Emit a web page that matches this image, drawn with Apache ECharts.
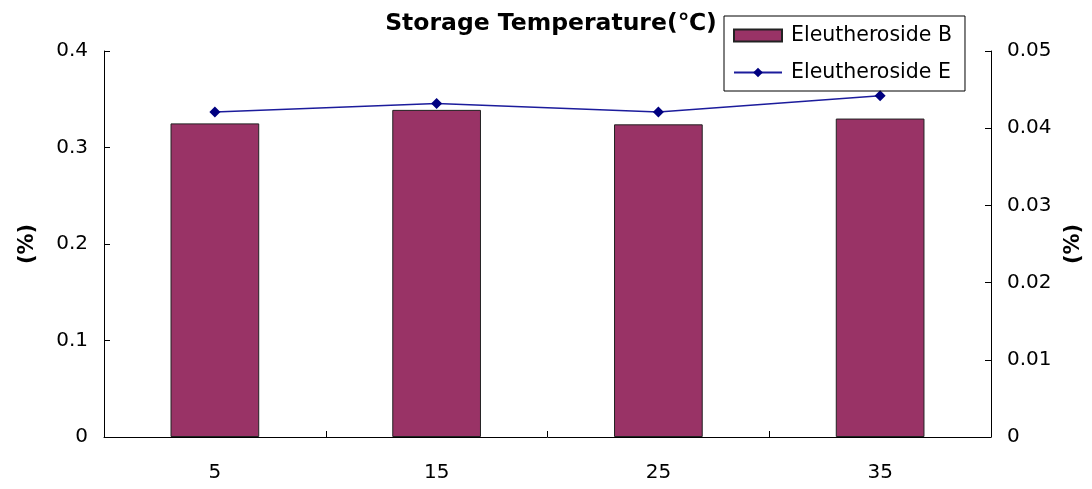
<!DOCTYPE html>
<html>
<head>
<meta charset="utf-8">
<script src="https://cdn.jsdelivr.net/npm/echarts@6/dist/echarts.min.js"></script>
<style>
html,body{margin:0;padding:0;background:#fff;}
#chart{width:1092px;height:489px;}
</style>
</head>
<body>
<div id="chart"></div>
<script>
const categories = ['5', '15', '25', '35'];
const eleutherosideB = [0.325, 0.339, 0.324, 0.330];
const eleutherosideE = [0.0421, 0.0432, 0.0421, 0.0442];
const leftTicks = {min: 0, max: 0.4, interval: 0.1};
const rightTicks = {min: 0, max: 0.05, interval: 0.01};

const FONT = 'DejaVu Sans';
const chart = echarts.init(document.getElementById('chart'), null, {renderer: 'canvas'});
const fmt = v => String(Math.round(v * 1000) / 1000);
chart.setOption({
  animation: false,
  backgroundColor: '#fff',
  title: {
    text: 'Storage Temperature(℃)',
    left: 546,
    textAlign: 'center',
    top: 7,
    textStyle: {fontFamily: FONT, fontWeight: 'bold', fontSize: 23.5, color: '#000'}
  },
  legend: {
    orient: 'vertical',
    left: 724,
    top: 16,
    padding: [9, 13, 8, 9],
    itemGap: 16,
    itemWidth: 48,
    itemHeight: 12,
    borderColor: '#000',
    borderWidth: 1,
    textStyle: {fontFamily: FONT, fontSize: 20.5, color: '#000', padding: [0, 0, 0, 4]},
    data: [
      {name: 'Eleutheroside B', icon: 'rect'},
      {name: 'Eleutheroside E'}
    ]
  },
  grid: {left: 104, right: 99, top: 51, bottom: 52, containLabel: false},
  xAxis: {
    type: 'category',
    data: categories,
    boundaryGap: true,
    axisLine: {lineStyle: {color: '#000', width: 1}},
    axisTick: {show: true, inside: true, length: 6, lineStyle: {color: '#000', width: 1}},
    axisLabel: {fontFamily: FONT, fontSize: 20, color: '#000', margin: 26}
  },
  yAxis: [
    {
      type: 'value',
      min: leftTicks.min, max: leftTicks.max, interval: leftTicks.interval,
      position: 'left',
      name: '(%)',
      nameLocation: 'middle',
      nameRotate: 90,
      nameGap: 66,
      nameTextStyle: {fontFamily: FONT, fontWeight: 'bold', fontSize: 21, color: '#000'},
      axisLine: {show: true, lineStyle: {color: '#000', width: 1}},
      axisTick: {show: true, inside: true, length: 6, lineStyle: {color: '#000', width: 1}},
      splitLine: {show: false},
      axisLabel: {fontFamily: FONT, fontSize: 20, color: '#000', margin: 16, formatter: fmt}
    },
    {
      type: 'value',
      min: rightTicks.min, max: rightTicks.max, interval: rightTicks.interval,
      position: 'right',
      name: '(%)',
      nameLocation: 'middle',
      nameRotate: 90,
      nameGap: 72,
      nameTextStyle: {fontFamily: FONT, fontWeight: 'bold', fontSize: 21, color: '#000'},
      axisLine: {show: true, lineStyle: {color: '#000', width: 1}},
      axisTick: {show: true, inside: true, length: 6, lineStyle: {color: '#000', width: 1}},
      splitLine: {show: false},
      axisLabel: {fontFamily: FONT, fontSize: 20, color: '#000', margin: 16, formatter: fmt}
    }
  ],
  series: [
    {
      name: 'Eleutheroside B',
      type: 'bar',
      yAxisIndex: 0,
      data: eleutherosideB,
      barWidth: '40%',
      itemStyle: {color: '#993366', borderColor: '#222', borderWidth: 1}
    },
    {
      name: 'Eleutheroside E',
      type: 'line',
      yAxisIndex: 1,
      data: eleutherosideE,
      symbol: 'diamond',
      symbolSize: 11,
      lineStyle: {color: '#1c1c9c', width: 1.5},
      itemStyle: {color: '#000080'}
    }
  ]
});
</script>
</body>
</html>
